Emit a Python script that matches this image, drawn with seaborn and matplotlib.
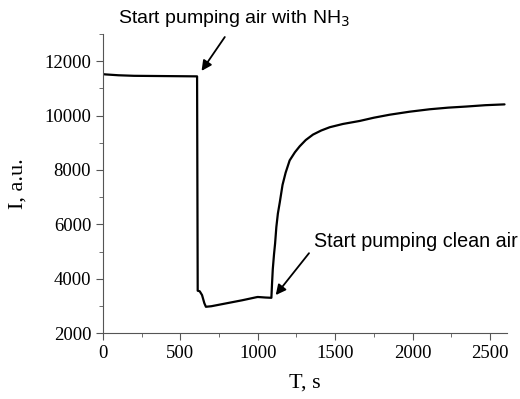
import matplotlib
matplotlib.use("Agg")
import matplotlib.pyplot as plt
import seaborn as sns
import pandas as pd
from matplotlib.ticker import MultipleLocator

# Data
time_s = [0, 20, 100, 200, 300, 400, 500, 600, 608,
          612, 625, 640, 655, 665, 700, 800, 900, 990, 1000, 1050, 1088,
          1092, 1097, 1105, 1112, 1120, 1130, 1142, 1160, 1180, 1206,
          1240, 1271, 1310, 1357, 1410, 1465, 1550, 1658, 1750, 1852,
          1980, 2110, 2230, 2346, 2470, 2594]
intensity = [11520, 11510, 11480, 11460, 11455, 11450, 11445, 11440, 11440,
             3560, 3540, 3400, 3100, 2970, 2990, 3100, 3210, 3320, 3330, 3310, 3300,
             3800, 4350, 4900, 5300, 5900, 6400, 6800, 7450, 7900, 8350,
             8650, 8870, 9100, 9300, 9450, 9570, 9690, 9800, 9920, 10030,
             10140, 10230, 10290, 10330, 10380, 10410]

data = pd.DataFrame({"T": time_s, "I": intensity})

sns.set_style("ticks")
plt.rcParams["font.family"] = ["Liberation Serif", "DejaVu Serif"]
plt.rcParams["text.color"] = "black"
plt.rcParams["axes.labelcolor"] = "black"
plt.rcParams["xtick.major.size"] = 5
plt.rcParams["ytick.major.size"] = 5
plt.rcParams["xtick.minor.size"] = 3
plt.rcParams["ytick.minor.size"] = 3

fig = plt.figure(figsize=(5.2, 3.99), dpi=100)
ax = fig.add_axes([0.198, 0.165, 0.777, 0.75])

sns.lineplot(data=data, x="T", y="I", ax=ax, color="black", linewidth=1.6,
             sort=False, estimator=None)

ax.set_xlim(0, 2610)
ax.set_ylim(2000, 13000)
ax.xaxis.set_major_locator(MultipleLocator(500))
ax.xaxis.set_minor_locator(MultipleLocator(250))
ax.yaxis.set_major_locator(MultipleLocator(2000))
ax.yaxis.set_minor_locator(MultipleLocator(1000))
ax.tick_params(labelsize=13.5, labelcolor="black")
ax.tick_params(which="both", color="#555555")
for side in ["left", "bottom"]:
    ax.spines[side].set_color("#555555")
sns.despine(ax=ax)

ax.set_xlabel("T, s", fontsize=16, labelpad=8)
ax.set_ylabel("I, a.u.", fontsize=16, labelpad=12)

ann_font = ["Liberation Sans", "DejaVu Sans"]
arrow = dict(arrowstyle="-|>", color="black", lw=1.3, mutation_scale=15,
             shrinkA=0, shrinkB=0)

# labels
ax.text(100, 13550, "Start pumping air with NH$_3$", fontsize=14,
        family=ann_font, va="center", ha="left", clip_on=False)
ax.text(1365, 5360, "Start pumping clean air", fontsize=14.2,
        family=ann_font, va="center", ha="left")

# arrows
ax.annotate("", xy=(637, 11640), xytext=(787, 12886),
            annotation_clip=False, arrowprops=arrow)
ax.annotate("", xy=(1116, 3400), xytext=(1331, 4940), arrowprops=arrow)

fig.savefig("out.png", dpi=100)
